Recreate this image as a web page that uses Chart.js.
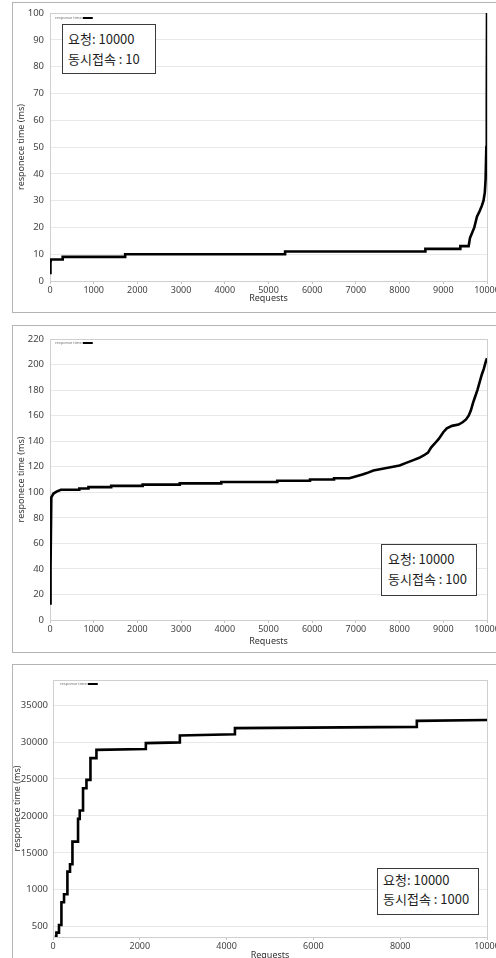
<!DOCTYPE html>
<html><head><meta charset="utf-8">
<script src="https://cdn.jsdelivr.net/npm/chart.js@4.4.1/dist/chart.umd.min.js"></script>
<style>
html,body{margin:0;padding:0;background:#fff;overflow:hidden;width:496px;height:958px;}
.panel{position:absolute;border:1px solid #b4b4b4;box-sizing:border-box;}
.wrap{position:absolute;left:0;}
.note{position:absolute;border:1.5px solid #3a3a3a;background:#fff;box-sizing:border-box;font-family:"Noto Sans CJK KR","Noto Sans",sans-serif;font-size:13px;line-height:20px;color:#1e1e1e;white-space:nowrap;}
</style></head>
<body>
<div class="panel" style="left:12px;top:2px;width:490px;height:311px;"></div>
<div class="panel" style="left:12px;top:325px;width:490px;height:328px;"></div>
<div class="panel" style="left:12px;top:664px;width:490px;height:310px;"></div>
<div class="wrap" style="top:0;width:496px;height:312px;"><canvas id="c1" width="496" height="312"></canvas></div>
<div class="wrap" style="top:325px;width:496px;height:327px;"><canvas id="c2" width="496" height="327"></canvas></div>
<div class="wrap" style="top:664px;width:496px;height:310px;"><canvas id="c3" width="496" height="310"></canvas></div>
<div class="note" id="n1" style="left:62px;top:24px;width:94px;height:50px;padding:4px 0 0 5px;"></div>
<div class="note" id="n2" style="left:381px;top:544px;width:96px;height:52px;padding:4px 0 0 6px;"></div>
<div class="note" id="n3" style="left:377px;top:868px;width:102px;height:47px;padding:2px 0 0 5px;line-height:18.5px;"></div>
<script>
// ---- data ----
const seriesLabel = 'response time';
const axisTitleY = 'responece time (ms)';
const axisTitleX = 'Requests';

const requests1 = [0, 0, 20, 25, 290, 290, 1720, 1720, 5380, 5380, 8590, 8590, 9390, 9390, 9580, 9610, 9660, 9710, 9770, 9830, 9880, 9920, 9950, 9968, 9985, 9995, 10000];
const time1     = [3, 6.5, 6.8, 8, 8, 9, 9, 10, 10, 11, 11, 12, 12, 13, 13, 16, 18, 20, 24, 26, 28, 30, 33, 38, 50, 70, 100];

const requests2 = [0, 12, 30, 80, 150, 250, 670, 670, 880, 880, 1400, 1400, 2120, 2120, 2970, 2970, 3920, 3920, 5200, 5200, 5950, 5950, 6500, 6500, 6850, 6950, 7050, 7150, 7250, 7400, 7550, 7700, 7850, 8000, 8150, 8300, 8450, 8560, 8650, 8720, 8800, 8900, 9000, 9080, 9200, 9350, 9450, 9520, 9580, 9630, 9680, 9730, 9780, 9830, 9880, 9930, 9970, 10000];
const time2     = [13, 40, 96, 99, 100.5, 102, 102, 103, 103, 104, 104, 105, 105, 106, 106, 107, 107, 108, 108, 109, 109, 110, 110, 111, 111, 112, 113, 114, 115, 117, 118, 119, 120, 121, 123, 125, 127, 129, 131, 135, 138, 142, 147, 150, 152, 153, 155, 157, 160, 164, 170, 175, 180, 186, 192, 197, 202, 205];

const requests3 = [40, 78, 78, 138, 138, 194, 194, 254, 254, 332, 332, 392, 392, 448, 448, 577, 577, 616, 616, 692, 692, 771, 771, 863, 863, 1001, 1001, 2139, 2139, 2923, 2923, 4192, 4192, 8383, 8383, 10000];
const time3     = [3650, 3650, 4190, 4190, 5230, 5230, 8300, 8300, 9390, 9390, 12450, 12450, 13450, 13450, 16520, 16520, 19590, 19590, 20720, 20720, 23750, 23750, 24880, 24880, 27820, 27820, 28940, 29050, 29850, 29950, 30880, 31050, 31880, 32050, 32870, 32980];

const xTicks12 = [0, 1000, 2000, 3000, 4000, 5000, 6000, 7000, 8000, 9000, 10000];
const xTickLabels12 = ['0', '1000', '2000', '3000', '4000', '5000', '6000', '7000', '8000', '9000', '10000'];
const xTicks3 = [0, 2000, 4000, 6000, 8000, 10000];
const xTickLabels3 = ['0', '2000', '4000', '6000', '8000', '10000'];
const yTicks1 = [0, 10, 20, 30, 40, 50, 60, 70, 80, 90, 100];
const yTickLabels1 = ['0', '10', '20', '30', '40', '50', '60', '70', '80', '90', '100'];
const yTicks2 = [0, 20, 40, 60, 80, 100, 120, 140, 160, 180, 200, 220];
const yTickLabels2 = ['0', '20', '40', '60', '80', '100', '120', '140', '160', '180', '200', '220'];
const yTicks3 = [5000, 10000, 15000, 20000, 25000, 30000, 35000];
const yTickLabels3 = ['500', '1000', '15000', '20000', '25000', '30000', '35000'];
const noteLines1 = ['요청: 10000', '동시접속 : 10'];
const noteLines2 = ['요청: 10000', '동시접속 : 100'];
const noteLines3 = ['요청: 10000', '동시접속 : 1000'];

// ---- rendering ----
Chart.defaults.font.family = '"Noto Sans", sans-serif';

const framePlugin = {
  id: 'frame',
  beforeDatasetsDraw(chart) {
    const {ctx, chartArea: a} = chart;
    ctx.save();
    ctx.strokeStyle = '#cfcfcf';
    ctx.lineWidth = 1;
    ctx.strokeRect(a.left + 0.5, a.top + 0.5, a.right - a.left, a.bottom - a.top);
    ctx.restore();
  }
};
const legendPlugin = {
  id: 'miniLegend',
  afterDraw(chart, args, opts) {
    const {ctx, chartArea: a} = chart;
    const label = chart.data.datasets[0].label;
    ctx.save();
    ctx.font = '4px "Noto Sans"';
    ctx.fillStyle = '#6a6a6a';
    ctx.textBaseline = 'middle';
    const tx = a.left + (opts.dx || 5), ty = a.top + (opts.dy || 5);
    ctx.fillText(label, tx, ty);
    const w = ctx.measureText(label).width;
    ctx.strokeStyle = '#000';
    ctx.lineWidth = 2;
    ctx.beginPath();
    ctx.moveTo(tx + w + 1, ty);
    ctx.lineTo(tx + w + 11, ty);
    ctx.stroke();
    ctx.restore();
  }
};

function build(id, xs, ys, cfg) {
  const data = xs.map((x, i) => ({x: x, y: ys[i]}));
  return new Chart(document.getElementById(id), {
    type: 'line',
    data: {datasets: [{label: seriesLabel, data: data, borderColor: '#000', backgroundColor: '#000',
      borderWidth: 2.6, pointRadius: 0, tension: 0, fill: false, borderJoinStyle: 'miter', borderCapStyle: 'butt'}]},
    options: {
      responsive: false, animation: false, events: [],
      layout: {padding: {left: 12, right: 9, top: cfg.top, bottom: 0}},
      plugins: {legend: {display: false}, tooltip: {enabled: false}, miniLegend: {dx: cfg.ldx, dy: cfg.ldy}},
      scales: {
        x: {
          type: 'linear', min: 0, max: 10000,
          afterBuildTicks: s => { s.ticks = cfg.xTicks.map(v => ({value: v})); },
          afterFit: s => { s.height = cfg.xh; s.paddingLeft = 0; s.paddingRight = 0; },
          ticks: {callback: (v, i) => cfg.xLabels[i], font: {size: 9}, color: '#444', padding: 1, maxRotation: 0, autoSkip: false},
          grid: {drawOnChartArea: false, drawTicks: true, tickLength: 3, color: '#c4c4c4'},
          border: {color: '#bdbdbd'},
          title: {display: true, text: axisTitleX, font: {size: 9}, color: '#333', padding: {top: 0, bottom: cfg.xtPad}}
        },
        y: {
          type: 'linear', min: cfg.ymin, max: cfg.ymax,
          afterBuildTicks: s => { s.ticks = cfg.yTicks.map(v => ({value: v})); },
          afterFit: s => { s.width = cfg.yw; s.paddingTop = 0; s.paddingBottom = 0; },
          ticks: {callback: (v, i) => cfg.yLabels[i], font: {size: 9.5}, color: '#444', padding: cfg.ytp, autoSkip: false},
          grid: {color: '#e8e8e8', drawTicks: false},
          border: {color: '#bdbdbd'},
          title: {display: true, text: axisTitleY, font: {size: 9}, color: '#333', padding: {top: cfg.ytPad, bottom: 0}}
        }
      }
    },
    plugins: [framePlugin, legendPlugin]
  });
}

build('c1', requests1, time1, {top: 13, xh: 31, yw: 38, ymin: 0, ymax: 100, yTicks: yTicks1, yLabels: yTickLabels1,
  xTicks: xTicks12, xLabels: xTickLabels12, xtPad: 8, ytPad: 4, ytp: 6, ldx: 5, ldy: 5});
build('c2', requests2, time2, {top: 14, xh: 32, yw: 38, ymin: 0, ymax: 220, yTicks: yTicks2, yLabels: yTickLabels2,
  xTicks: xTicks12, xLabels: xTickLabels12, xtPad: 5, ytPad: 4, ytp: 6, ldx: 5, ldy: 4});
build('c3', requests3, time3, {top: 16, xh: 37, yw: 41, ymin: 3600, ymax: 38400, yTicks: yTicks3, yLabels: yTickLabels3,
  xTicks: xTicks3, xLabels: xTickLabels3, xtPad: 13, ytPad: 0, ytp: 5, ldx: 7, ldy: 4});

function fillNote(id, lines) {
  const el = document.getElementById(id);
  lines.forEach(t => { const d = document.createElement('div'); d.textContent = t; el.appendChild(d); });
}
fillNote('n1', noteLines1);
fillNote('n2', noteLines2);
fillNote('n3', noteLines3);
</script>
</body></html>
